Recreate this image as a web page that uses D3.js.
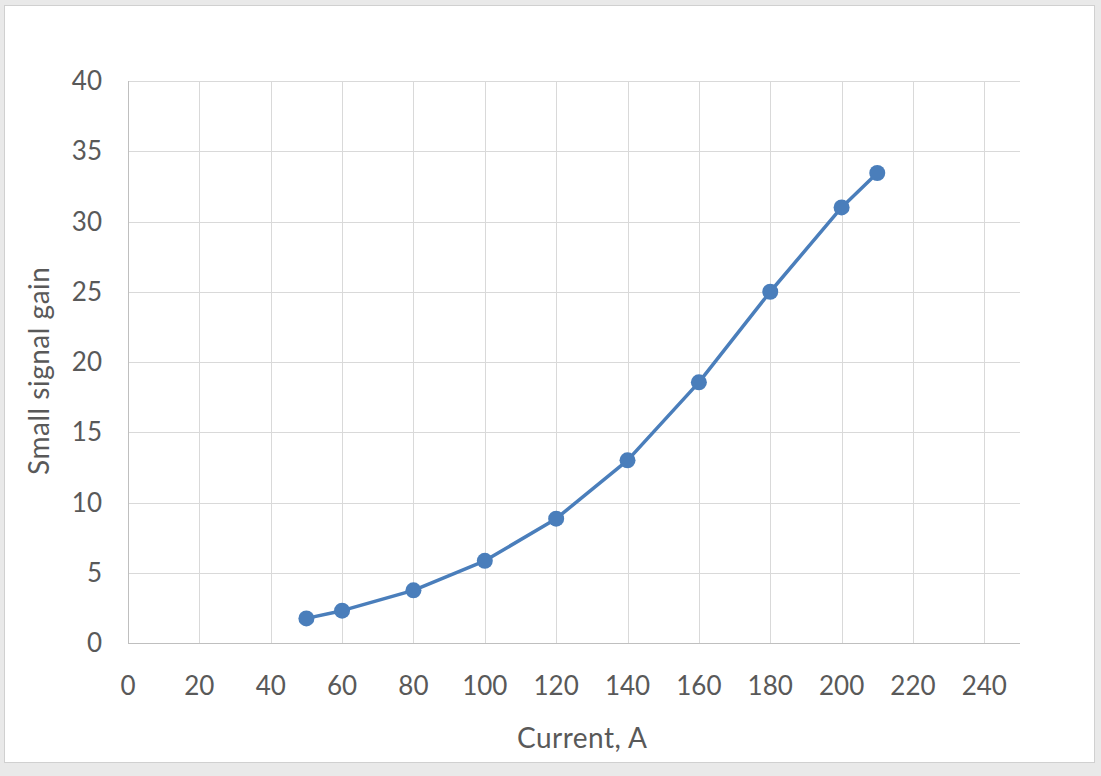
<!DOCTYPE html>
<html><head><meta charset="utf-8">
<script src="https://cdn.jsdelivr.net/npm/d3@7"></script>
<style>body{margin:0;background:#fff}svg{display:block}</style>
</head><body>
<svg id="c" width="1101" height="776"></svg>
<script>
const currents = [50, 60, 80, 100, 120, 140, 160, 180, 200, 210];
const gains = [1.75, 2.3, 3.75, 5.85, 8.85, 13.0, 18.55, 25.0, 31.0, 33.45];
const xTicks = [0, 20, 40, 60, 80, 100, 120, 140, 160, 180, 200, 220, 240];
const yTicks = [0, 5, 10, 15, 20, 25, 30, 35, 40];
const xTitle = "Current, A";
const yTitle = "Small signal gain";

const svg = d3.select("#c");
svg.append("rect").attr("width",1101).attr("height",776).attr("fill","#e9e9e9");
svg.append("rect").attr("x",4.5).attr("y",5.5).attr("width",1090).attr("height",757)
  .attr("fill","#fff").attr("stroke","#d0d0d0").attr("stroke-width",1);

const L=128, R=1020, T=81, B=643;
const x = d3.scaleLinear().domain([0,250]).range([L,R]);
const y = d3.scaleLinear().domain([0,40]).range([B,T]);
const font = "Lato, 'Open Sans', sans-serif";
const tc = "#595959";

const g = svg.append("g");
// grid
g.selectAll(".vg").data(xTicks).join("line")
  .attr("x1",d=>Math.round(x(d))+0.5).attr("x2",d=>Math.round(x(d))+0.5)
  .attr("y1",T).attr("y2",B).attr("stroke","#d9d9d9").attr("stroke-width",1);
g.selectAll(".hg").data(yTicks).join("line")
  .attr("y1",d=>Math.round(y(d))+0.5).attr("y2",d=>Math.round(y(d))+0.5)
  .attr("x1",L).attr("x2",R).attr("stroke","#d9d9d9").attr("stroke-width",1);
// axis lines
g.append("line").attr("x1",L).attr("x2",R).attr("y1",Math.round(y(0))+0.5).attr("y2",Math.round(y(0))+0.5)
  .attr("stroke","#bfbfbf");
g.append("line").attr("x1",Math.round(x(0))+0.5).attr("x2",Math.round(x(0))+0.5).attr("y1",T).attr("y2",B)
  .attr("stroke","#bfbfbf");

// tick labels
g.selectAll(".xl").data(xTicks).join("text")
  .attr("x",d=>x(d)).attr("y",B+52).attr("text-anchor","middle")
  .attr("font-family",font).attr("font-size",26).attr("fill",tc).text(d=>d);
g.selectAll(".yl").data(yTicks).join("text")
  .attr("x",L-26).attr("y",d=>y(d)+9).attr("text-anchor","end")
  .attr("font-family",font).attr("font-size",26).attr("fill",tc).text(d=>d);

// titles
svg.append("text").attr("x",582).attr("y",748).attr("text-anchor","middle")
  .attr("font-family",font).attr("font-size",28).attr("fill",tc)
  .attr("textLength",130).attr("lengthAdjust","spacing").text(xTitle);
svg.append("text").attr("transform",`translate(49,371) rotate(-90)`).attr("text-anchor","middle")
  .attr("font-family",font).attr("font-size",28).attr("fill",tc)
  .attr("textLength",208).attr("lengthAdjust","spacing").text(yTitle);

// line + markers
const data = currents.map((c,i)=>({c, v:gains[i]}));
const color = "#4a7ebb";
svg.append("path").datum(data)
  .attr("d", d3.line().x(d=>x(d.c)).y(d=>y(d.v)))
  .attr("fill","none").attr("stroke",color).attr("stroke-width",3.5).attr("stroke-linejoin","round");
svg.selectAll(".pt").data(data).join("circle")
  .attr("cx",d=>x(d.c)).attr("cy",d=>y(d.v)).attr("r",8).attr("fill",color);
</script>
</body></html>
